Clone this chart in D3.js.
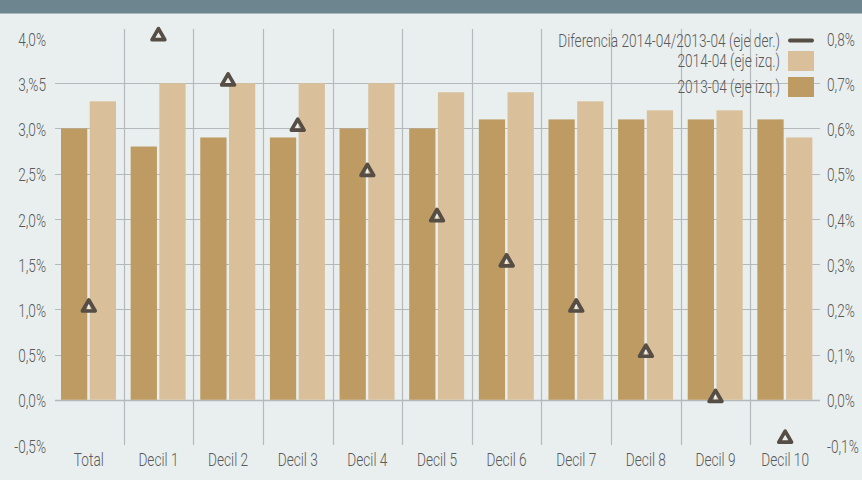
<!DOCTYPE html>
<html><head><meta charset="utf-8">
<script src="https://cdn.jsdelivr.net/npm/d3@7/dist/d3.min.js"></script>
<style>
html,body{margin:0;padding:0;background:#e9efef;}
svg{display:block;}
text{font-family:Roboto,"Open Sans",sans-serif;font-weight:300;fill:#595959;}
</style></head>
<body>
<script>
const categories = ["Total","Decil 1","Decil 2","Decil 3","Decil 4","Decil 5","Decil 6","Decil 7","Decil 8","Decil 9","Decil 10"];
const serie2013 = [3.0,2.8,2.9,2.9,3.0,3.0,3.1,3.1,3.1,3.1,3.1];
const serie2014 = [3.3,3.5,3.5,3.5,3.5,3.4,3.4,3.3,3.2,3.2,2.9];
const diferencia = [0.2,0.8,0.7,0.6,0.5,0.4,0.3,0.2,0.1,0.0,-0.09];
const leftTicks = [4.0,3.5,3.0,2.5,2.0,1.5,1.0,0.5,0.0,-0.5];
const leftTickLabels = ["4,0%","3,%5","3,0%","2,5%","2,0%","1,5%","1,0%","0,5%","0,0%","-0,5%"];
const rightTicks = [0.8,0.7,0.6,0.5,0.4,0.3,0.2,0.1,0.0,-0.1];
const rightTickLabels = ["0,8%","0,7%","0,6%","0,5%","0,4%","0,3%","0,2%","0,1%","0,0%","-0,1%"];
const gridTicks = [0.0,0.5,1.0,1.5,2.0,2.5,3.0,3.5];
const seriesNames = ["2013-04 (eje izq.)","2014-04 (eje izq.)","Diferencia 2014-04/2013-04 (eje der.)"];

const W=862,H=480, FS=17.5, FSN=17.5;
const C13="#bd9b62", C14="#d9c09a", CD="#564d44", GRID="#b5b9bb";
const svg=d3.select("body").append("svg").attr("width",W).attr("height",H);
svg.append("rect").attr("width",W).attr("height",H).attr("fill","#e9efef");
svg.append("rect").attr("width",W).attr("height",13.5).attr("fill","#6c858e");

const x=d3.scaleBand().domain(categories).range([54,820]).padding(0);
const xi=d3.scaleBand().domain(["a","b"]).range([7,62]).paddingInner(0.085);
const y=d3.scaleLinear().domain([-0.5,4.0]).range([445,38]);
const yR=d3.scaleLinear().domain([-0.1,0.8]).range([445,38]);

// gridlines
svg.append("g").selectAll("line").data(gridTicks).join("line")
  .attr("x1",55).attr("x2",820)
  .attr("y1",d=>Math.round(y(d))+0.5).attr("y2",d=>Math.round(y(d))+0.5)
  .attr("stroke",GRID).attr("stroke-width",d=>d===0?1.6:1.2);

// separators
svg.append("g").selectAll("line").data(categories.slice(1)).join("line")
  .attr("x1",d=>Math.round(x(d))+0.5).attr("x2",d=>Math.round(x(d))+0.5)
  .attr("y1",29).attr("y2",445)
  .attr("stroke",GRID).attr("stroke-width",1.2);

// bars
const g=svg.append("g");
g.selectAll("rect.b13").data(categories).join("rect").attr("class","b13")
  .attr("x",d=>x(d)+xi("a")).attr("width",xi.bandwidth())
  .attr("y",(d,i)=>y(serie2013[i])).attr("height",(d,i)=>y(0)-y(serie2013[i]))
  .attr("fill",C13);
g.selectAll("rect.b14").data(categories).join("rect").attr("class","b14")
  .attr("x",d=>x(d)+xi("b")).attr("width",xi.bandwidth())
  .attr("y",(d,i)=>y(serie2014[i])).attr("height",(d,i)=>y(0)-y(serie2014[i]))
  .attr("fill",C14);

// triangles
const tri=d3.symbol().type(d3.symbolTriangle).size(70);
svg.append("g").selectAll("path").data(categories).join("path")
  .attr("transform",(d,i)=>`translate(${x(d)+x.bandwidth()/2},${yR(diferencia[i])-2})`)
  .attr("d",tri).attr("fill","none").attr("stroke",CD).attr("stroke-width",3.7)
  .attr("stroke-linejoin","round");

// legend (measure to get horizontal condensing factor)
const lg=svg.append("g");
const items=[
  {name:seriesNames[2],type:"line",color:CD,yy:40.5},
  {name:seriesNames[1],type:"rect",color:C14,yy:61},
  {name:seriesNames[0],type:"rect",color:C13,yy:87}
];
let sx=1;
items.forEach((it,k)=>{
  const t=lg.append("text").attr("x",0).attr("y",0).attr("dy","0.35em")
    .attr("text-anchor","end").attr("font-size",FS).text(it.name);
  if(k===0){ sx=222/t.node().getComputedTextLength(); }
  t.attr("transform",`translate(780,${it.yy}) scale(${sx},1)`);
  if(it.type==="line"){
    lg.append("line").attr("x1",790).attr("x2",812).attr("y1",it.yy).attr("y2",it.yy)
      .attr("stroke",it.color).attr("stroke-width",4).attr("stroke-linecap","round");
  } else {
    lg.append("rect").attr("x",788).attr("y",it.yy-10).attr("width",26).attr("height",20)
      .attr("fill",it.color);
  }
});

function styleAxis(gA,fs){
  gA.select(".domain").remove();
  gA.selectAll("text").attr("font-size",fs).attr("dy","0.35em")
    .style("font-family",null).attr("fill","#595959")
    .attr("transform",`scale(${sx},1)`);
}
// left axis labels
const axL=d3.axisLeft(y).tickValues(leftTicks).tickSize(0).tickPadding(0)
  .tickFormat((d,i)=>leftTickLabels[i]);
styleAxis(svg.append("g").attr("transform","translate(46,1)").call(axL),FSN);

// right axis labels
const axR=d3.axisRight(yR).tickValues(rightTicks).tickSize(0).tickPadding(0)
  .tickFormat((d,i)=>rightTickLabels[i]);
styleAxis(svg.append("g").attr("transform","translate(827,1)").call(axR),FSN);

// category labels
const axX=d3.axisBottom(x).tickSize(0).tickPadding(0);
styleAxis(svg.append("g").attr("transform","translate(0,460)").call(axX),FS);
</script>
</body></html>
